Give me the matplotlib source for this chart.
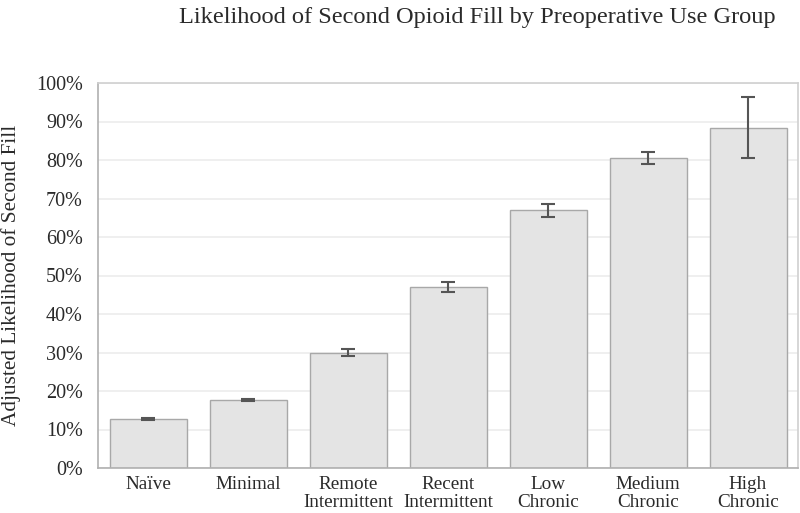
import numpy as np
import matplotlib
matplotlib.use("Agg")
import matplotlib.pyplot as plt
from matplotlib.ticker import PercentFormatter

# ── Data ──────────────────────────────────────────────────────────────────────
groups = ["Naïve", "Minimal", "Remote\nIntermittent", "Recent\nIntermittent",
          "Low\nChronic", "Medium\nChronic", "High\nChronic"]
likelihood = [12.7, 17.7, 29.9, 47.0, 66.9, 80.5, 88.4]
err_half   = [0.3, 0.3, 0.9, 1.3, 1.8, 1.6, 7.9]

plt.rcParams["font.family"] = ["Liberation Serif", "DejaVu Serif"]

fig = plt.figure(figsize=(8.0, 5.13), dpi=100)
ax = fig.add_axes([98 / 800, 1 - 468 / 513, 700 / 800, 385 / 513])

x = np.arange(len(groups))
ax.bar(x, likelihood, width=0.77, color="#e4e4e4", edgecolor="#a8a8a8",
       linewidth=1.0, zorder=2)
ax.errorbar(x, likelihood, yerr=err_half, fmt="none", ecolor="#555555",
            elinewidth=1.5, capsize=5, capthick=1.5, zorder=3)

ax.set_xlim(-0.5, len(groups) - 0.5)
ax.set_ylim(0, 100)
ax.set_yticks(np.arange(0, 101, 10))
ax.yaxis.set_major_formatter(PercentFormatter(decimals=0))
ax.set_xticks(x)
ax.set_xticklabels(groups, fontsize=13.8, color="#2a2a2a", linespacing=1.02)
ax.tick_params(axis="y", labelsize=14.5, colors="#2a2a2a", length=0, pad=11)
ax.tick_params(axis="x", length=0, pad=6)
ax.grid(axis="y", color="#ececec", linewidth=1.2, zorder=0)

for side in ["top", "right", "left", "bottom"]:
    ax.spines[side].set_color("#d0d0d0")
    ax.spines[side].set_linewidth(1.2)
ax.spines["bottom"].set_color("#b0b0b0")
ax.spines["left"].set_color("#b0b0b0")

# y-axis title placed in figure coords so it stays inside the canvas
fig.text(11 / 800, 1 - 275 / 513, "Adjusted Likelihood of Second Fill",
         rotation=90, ha="center", va="center", fontsize=15.3,
         color="#2a2a2a")

fig.text(477 / 800, 1 - 17 / 513,
         "Likelihood of Second Opioid Fill by Preoperative Use Group",
         ha="center", va="center", fontsize=17.6, color="#2a2a2a")

fig.savefig("out.png", dpi=100)
